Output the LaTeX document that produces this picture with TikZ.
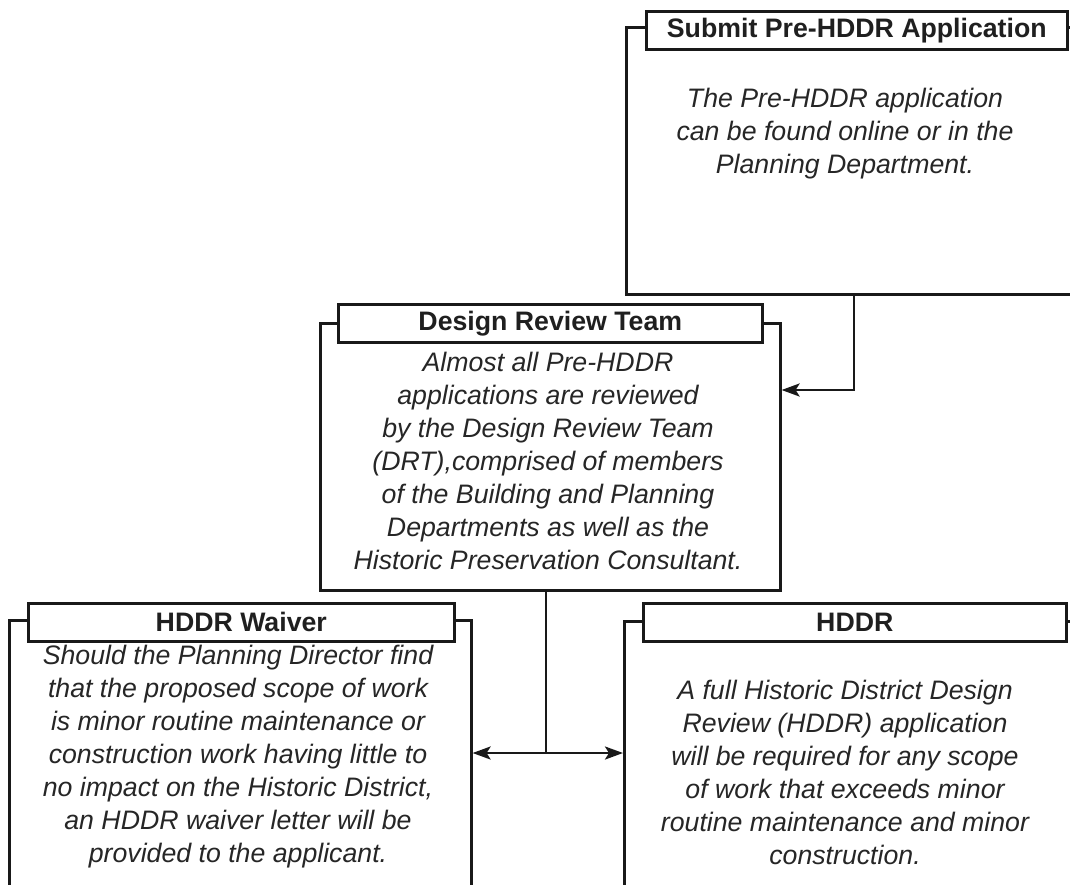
\documentclass[tikz,border=0pt]{standalone}
\usepackage{fontspec}
\setmainfont{Liberation Sans}
\usetikzlibrary{arrows.meta}
\tikzset{
 frame/.style={draw=black!90, line width=2.6pt, anchor=north west, inner sep=0pt},
 head/.style={draw=black!90, line width=2.6pt, fill=white, anchor=north west, inner sep=0pt, font=\fontsize{26.7}{32}\selectfont\bfseries, text=black!88},
 body/.style={align=center, inner sep=0pt, font=\fontsize{26.7}{33}\selectfont\itshape, text=black!85},
 link/.style={draw=black!90, line width=2.6pt},
 tipend/.style={-{Stealth[length=18pt,width=13pt,inset=4pt]}},
 tipboth/.style={{Stealth[length=18pt,width=13pt,inset=4pt]}-{Stealth[length=18pt,width=13pt,inset=4pt]}}
}
\begin{document}
\begin{tikzpicture}[x=1pt,y=-1pt]
\useasboundingbox (0,0) rectangle (1070,884);
\clip (0,0) rectangle (1070,884);
\fill[white] (0,0) rectangle (1070,884);

% Submit Pre-HDDR Application
\node[frame, minimum width=465pt, minimum height=267pt] (sub) at (625,26) {};
\node[head, minimum width=421pt, minimum height=38pt] (subh) at (645,10) {Submit Pre-HDDR Application};
\node[body] (subt) at (845,134) {The Pre-HDDR application\\can be found online or in the\\Planning Department.};

% Design Review Team
\node[frame, minimum width=460pt, minimum height=267pt] (drt) at (319,322) {};
\node[head, minimum width=424pt, minimum height=38pt] (drth) at (337,303) {Design Review Team};
\node[body] (drtt) at (548,461) {Almost all Pre-HDDR\\applications are reviewed\\by the Design Review Team\\(DRT),comprised of members\\of the Building and Planning\\Departments as well as the\\Historic Preservation Consultant.};

% HDDR Waiver
\node[frame, minimum width=462pt, minimum height=300pt] (wai) at (8,619) {};
\node[head, minimum width=426pt, minimum height=38pt] (waih) at (27,602) {HDDR Waiver};
\node[body] (wait) at (238,757) {Should the Planning Director find\\that the proposed scope of work\\is minor routine maintenance or\\construction work having little to\\no impact on the Historic District,\\an HDDR waiver letter will be\\provided to the applicant.};

% HDDR
\node[frame, minimum width=470pt, minimum height=300pt] (hddr) at (623,620) {};
\node[head, minimum width=423pt, minimum height=38pt] (hddrh) at (642,602) {HDDR};
\node[body] (hddrt) at (845,772) {A full Historic District Design\\Review (HDDR) application\\will be required for any scope\\of work that exceeds minor\\routine maintenance and minor\\construction.};

% connectors
\draw[link, tipend] ([xshift=229pt]sub.south west) |- ([yshift=-68pt]drt.north east);
\coordinate (j) at (546,753);
\draw[link] (drt.south -| j) -- (j);
\draw[link, tipboth] (wai.east |- j) -- (hddr.west |- j);
\end{tikzpicture}
\end{document}
